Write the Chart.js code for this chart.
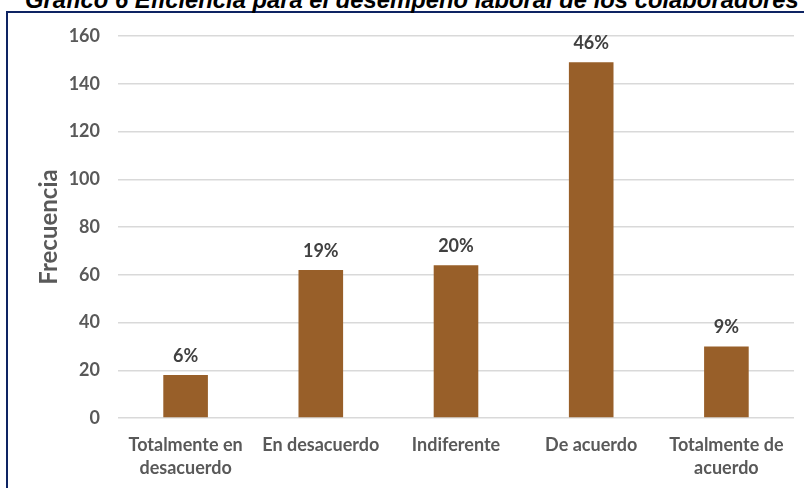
<!DOCTYPE html>
<html>
<head>
<meta charset="utf-8">
<script src="https://cdn.jsdelivr.net/npm/chart.js@4.4.1/dist/chart.umd.min.js"></script>
<style>
  html, body { margin: 0; padding: 0; background: #ffffff; overflow: hidden; }
  #wrap { position: relative; width: 804px; height: 488px; }
  #title {
    position: absolute; left: 25px; top: -12px; white-space: nowrap;
    font-family: "Liberation Sans", Arial, sans-serif; font-weight: bold; font-style: italic;
    font-size: 23.8px; line-height: 23.8px; color: #000;
  }
  #frame {
    position: absolute; left: 6px; top: 11px; width: 820px; height: 500px;
    border-left: 2px solid #0E2463; border-top: 2px solid #0E2463;
  }
  canvas { position: absolute; left: 0; top: 0; }
</style>
</head>
<body>
<div id="wrap">
  <div id="frame"></div>
  <div id="title">Gráfico 6 Eficiencia para el desempeño laboral de los colaboradores</div>
  <canvas id="c" width="804" height="488"></canvas>
</div>
<script>
const categories = [
  ["Totalmente en", "desacuerdo"],
  "En desacuerdo",
  "Indiferente",
  "De acuerdo",
  ["Totalmente de", "acuerdo"]
];
const frequencies = [18, 62, 64, 149, 30];
const percentLabels = ["6%", "19%", "20%", "46%", "9%"];
const yTicks = [0, 20, 40, 60, 80, 100, 120, 140, 160];

const labelPlugin = {
  id: 'barLabels',
  afterDatasetsDraw(chart) {
    const ctx = chart.ctx;
    const meta = chart.getDatasetMeta(0);
    ctx.save();
    ctx.font = 'bold 18px Lato, "Open Sans", sans-serif';
    ctx.fillStyle = '#404040';
    ctx.textAlign = 'center';
    ctx.textBaseline = 'alphabetic';
    meta.data.forEach((bar, i) => {
      ctx.fillText(percentLabels[i], bar.x, bar.y - 13);
    });
    ctx.restore();
  }
};

new Chart(document.getElementById('c'), {
  type: 'bar',
  data: {
    labels: categories,
    datasets: [{
      data: frequencies,
      backgroundColor: '#985F29',
      borderWidth: 0,
      categoryPercentage: 1.0,
      barPercentage: 0.33
    }]
  },
  options: {
    responsive: false,
    animation: false,
    devicePixelRatio: 1,
    layout: { padding: { top: 36, right: 10, left: 0, bottom: 0 } },
    plugins: { legend: { display: false }, tooltip: { enabled: false } },
    scales: {
      x: {
        grid: { display: false, drawTicks: false },
        border: { display: false },
        ticks: {
          color: '#595959',
          font: { family: 'Lato, "Open Sans", sans-serif', size: 18, weight: 'bold', lineHeight: 1.3 },
          padding: 15,
          maxRotation: 0,
          autoSkip: false
        },
        afterFit(scale) { scale.height = 70; }
      },
      y: {
        min: 0, max: 160,
        afterBuildTicks(scale) { scale.ticks = yTicks.map(v => ({ value: v })); },
        grid: { color: '#D9D9D9', lineWidth: 1.5, drawTicks: false },
        border: { display: false },
        ticks: {
          color: '#595959',
          font: { family: 'Lato, "Open Sans", sans-serif', size: 18, weight: 'bold' },
          padding: 18
        },
        title: {
          display: true,
          text: 'Frecuencia',
          color: '#595959',
          font: { family: 'Lato, "Open Sans", sans-serif', size: 24, weight: 'bold' },
          padding: { top: 35, bottom: 0 }
        },
        afterFit(scale) { scale.width = 118; }
      }
    }
  },
  plugins: [labelPlugin]
});
</script>
</body>
</html>
